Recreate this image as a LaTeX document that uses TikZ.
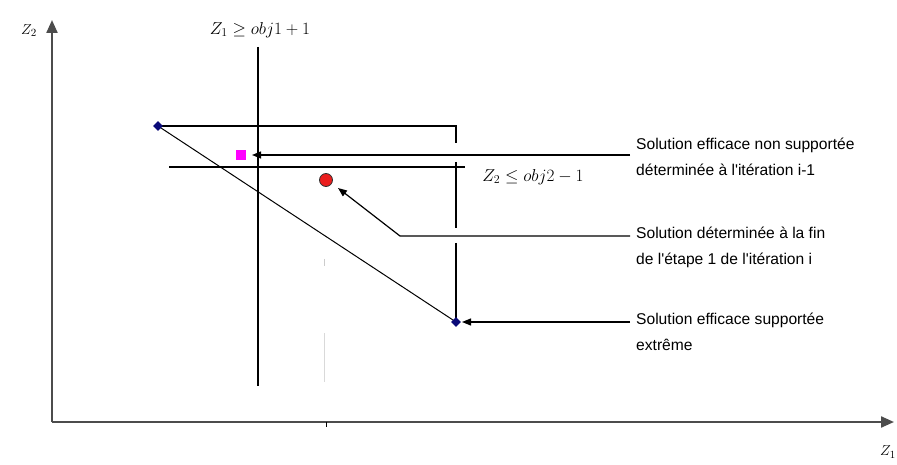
\documentclass[tikz,border=0pt]{standalone}
\usepackage{fontspec}
\newfontfamily\labfont{Liberation Sans}
\usetikzlibrary{arrows.meta,shapes.geometric}
\definecolor{navyd}{RGB}{10,10,120}
\definecolor{redpt}{RGB}{235,30,30}
\definecolor{magpt}{RGB}{255,0,255}
\begin{document}
\begin{tikzpicture}[x=1pt,y=-1pt,
  axis/.style={line width=2.2pt,draw=black!70,-{Triangle[length=13pt,width=11pt]}},
  thin/.style={line width=1.2pt,draw=black},
  arr/.style={line width=1.2pt,draw=black,-{Triangle[length=9pt,width=7pt]}},
  diam/.style={diamond,fill=navyd,minimum size=10pt,inner sep=0pt},
  sqpt/.style={rectangle,fill=magpt,minimum size=10pt,inner sep=0pt},
  circpt/.style={circle,fill=redpt,draw=black!80,line width=0.8pt,minimum size=13pt,inner sep=0pt},
  txt/.style={font=\labfont\fontsize{15.6}{26}\selectfont,align=left,anchor=north west,inner sep=0pt},
  mathlab/.style={font=\fontsize{17.5}{20}\selectfont,inner sep=0pt},
  axlab/.style={font=\fontsize{15}{16}\selectfont,inner sep=0pt}
]
\useasboundingbox (0,0) rectangle (897,465);
% axes
\coordinate (O) at (52,422);
\coordinate (Ytop) at (52,20);
\coordinate (Xend) at (894,422);
\draw[axis] (O) -- (Ytop);
\draw[axis] (O) -- (Xend);
\node[axlab] (z2) at (29,31) {$Z_2$};
\node[axlab] (z1) at (888,452) {$Z_1$};
% faint marks
\draw[black!15,line width=1pt] (324,333) -- (324,382);
\draw[black!20,line width=1pt] (324,259) -- (324,266);
\draw[black,line width=1pt] (326,422) -- (326,427);
% constraint lines
\coordinate (v1) at (258,47);
\coordinate (v2) at (258,386);
\draw[thin] (v1) -- (v2);
\coordinate (h1) at (169,167);
\coordinate (h2) at (465,167);
\draw[thin] (h1) -- (h2);
\node[mathlab] (c1) at (260,30) {$Z_1 \geq obj1+1$};
\node[mathlab] (c2) at (533,177) {$Z_2 \leq obj2-1$};
% points
\coordinate (A) at (158,126);
\coordinate (B) at (456,322);
\coordinate (C) at (456,126);
\draw[thin,line width=1pt] (A) -- (B);
\draw[thin] (A) -- (C) -- (456,143);
\draw[thin] (456,162) -- (456,228);
\draw[thin] (456,243) -- (B);
\node[diam] (dA) at (A) {};
\node[diam] (dB) at (B) {};
\node[sqpt] (P) at (241,155) {};
\node[circpt] (R) at (326,180) {};
% labels
\node[txt] (L1) at (636,138) {Solution efficace non supportée\\déterminée à l'itération i-1};
\node[txt] (L2) at (636,227) {Solution déterminée à la fin\\de l'étape 1 de l'itération i};
\node[txt] (L3) at (636,313) {Solution efficace supportée\\extrême};
% arrows
\coordinate (s1) at (630,155);
\coordinate (t1) at (252,155);
\draw[arr] (s1) -- (t1);
\coordinate (s2) at (630,236);
\coordinate (k2) at (400,236);
\coordinate (t2) at (338,188);
\draw[arr] (s2) -- (k2) -- (t2);
\coordinate (s3) at (630,322);
\coordinate (t3) at (462,322);
\draw[arr] (s3) -- (t3);
\end{tikzpicture}
\end{document}
